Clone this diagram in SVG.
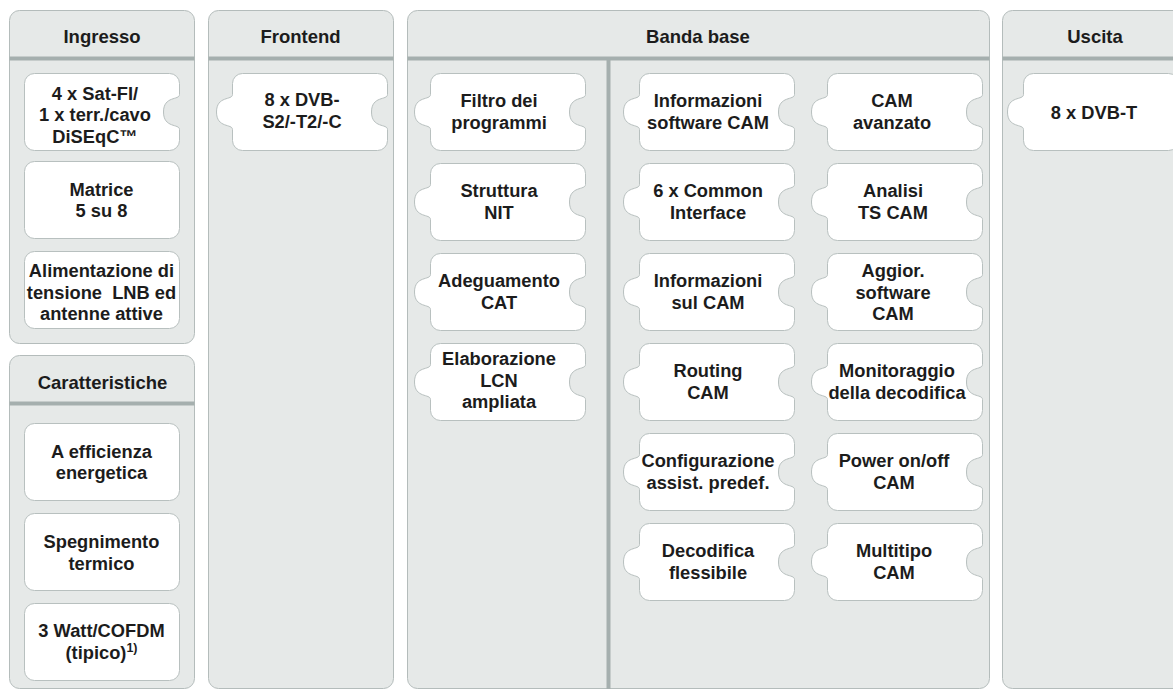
<svg xmlns="http://www.w3.org/2000/svg" xmlns:xlink="http://www.w3.org/1999/xlink" width="1173" height="690" viewBox="0 0 1173 690">
  <style>
    .panel { fill: #e6e9e8; stroke: #b4bcbb; stroke-width: 1; }
    .rule { stroke: #a5afae; stroke-width: 4; fill: none; }
    .node { fill: #ffffff; stroke: #b8c0bf; stroke-width: 1; }
    .hd { font-family: "Liberation Sans", Arial, sans-serif; font-weight: bold; font-size: 18.5px; fill: #1c1c1c; text-anchor: middle; }
    .tx { font-family: "Liberation Sans", Arial, sans-serif; font-weight: bold; font-size: 18.3px; fill: #1c1c1c; text-anchor: middle; white-space: pre; }
  </style>
  <defs>
    <!-- puzzle pieces, body 155 x 77 at the origin -->
    <path id="pc-both" d="M10,0 H145 A10,10 0 0 1 155,10 V21 C155,27 139,22 139,38.5 C139,55 155,50 155,56 V67 A10,10 0 0 1 145,77 H10 A10,10 0 0 1 0,67 V56 C0,50 -16,55 -16,38.5 C-16,22 0,27 0,21 V10 A10,10 0 0 1 10,0 Z"/>
    <path id="pc-notch" d="M10,0 H145 A10,10 0 0 1 155,10 V21 C155,27 139,22 139,38.5 C139,55 155,50 155,56 V67 A10,10 0 0 1 145,77 H10 A10,10 0 0 1 0,67 V10 A10,10 0 0 1 10,0 Z"/>
    <path id="pc-tab" d="M10,0 H145 A10,10 0 0 1 155,10 V67 A10,10 0 0 1 145,77 H10 A10,10 0 0 1 0,67 V56 C0,50 -16,55 -16,38.5 C-16,22 0,27 0,21 V10 A10,10 0 0 1 10,0 Z"/>
    <rect id="pc-plain" x="0" y="0" width="155" height="77" rx="10" ry="10"/>
  </defs>

  <!-- column panels -->
  <g id="panels">
    <g id="panel-ingresso">
      <rect class="panel" x="9.5" y="10.5" width="185" height="333" rx="10"/>
      <line class="rule" x1="9.5" y1="58.5" x2="194.5" y2="58.5"/>
      <text class="hd" x="102" y="43">Ingresso</text>
    </g>
    <g id="panel-caratteristiche">
      <rect class="panel" x="9.5" y="355.5" width="185" height="333" rx="10"/>
      <line class="rule" x1="9.5" y1="403.5" x2="194.5" y2="403.5"/>
      <text class="hd" x="102.5" y="389">Caratteristiche</text>
    </g>
    <g id="panel-frontend">
      <rect class="panel" x="208.5" y="10.5" width="185" height="678" rx="10"/>
      <line class="rule" x1="208.5" y1="58.5" x2="393.5" y2="58.5"/>
      <text class="hd" x="300.5" y="43">Frontend</text>
    </g>
    <g id="panel-banda">
      <rect class="panel" x="407.5" y="10.5" width="582" height="678" rx="10"/>
      <line class="rule" x1="407.5" y1="58.5" x2="989.5" y2="58.5"/>
      <line class="rule" x1="608.5" y1="58.5" x2="608.5" y2="689"/>
      <text class="hd" x="698" y="43">Banda base</text>
    </g>
    <g id="panel-uscita">
      <rect class="panel" x="1002.5" y="10.5" width="190" height="678" rx="10"/>
      <line class="rule" x1="1002.5" y1="58.5" x2="1192" y2="58.5"/>
      <text class="hd" x="1095" y="43">Uscita</text>
    </g>
  </g>

  <!-- Ingresso -->
  <g id="in-satfi">
    <use href="#pc-notch" class="node" x="24.5" y="73.5"/>
    <text class="tx" x="95" y="99.5">4 x Sat-FI/</text>
    <text class="tx" x="95" y="121">1 x terr./cavo</text>
    <text class="tx" x="95" y="142.5">DiSEqC™</text>
  </g>
  <g id="in-matrice">
    <use href="#pc-plain" class="node" x="24.5" y="161.5"/>
    <text class="tx" x="101.5" y="195.5">Matrice</text>
    <text class="tx" x="101.5" y="217">5 su 8</text>
  </g>
  <g id="in-alim">
    <use href="#pc-plain" class="node" x="24.5" y="251.5"/>
    <text class="tx" x="101.5" y="277">Alimentazione di</text>
    <text class="tx" x="101.5" y="298.5">tensione  LNB ed</text>
    <text class="tx" x="101.5" y="320">antenne attive</text>
  </g>

  <!-- Caratteristiche -->
  <g id="car-efficienza">
    <use href="#pc-plain" class="node" x="24.5" y="423.5"/>
    <text class="tx" x="101.5" y="458">A efficienza</text>
    <text class="tx" x="101.5" y="478.5">energetica</text>
  </g>
  <g id="car-spegnimento">
    <use href="#pc-plain" class="node" x="24.5" y="513.5"/>
    <text class="tx" x="101.5" y="548">Spegnimento</text>
    <text class="tx" x="101.5" y="569.5">termico</text>
  </g>
  <g id="car-watt">
    <use href="#pc-plain" class="node" x="24.5" y="603.5"/>
    <text class="tx" x="101.5" y="637">3 Watt/COFDM</text>
    <text class="tx" x="101.5" y="658.5">(tipico)<tspan dy="-7" font-size="12.5">1)</tspan></text>
  </g>

  <!-- Frontend -->
  <g id="fe-dvb">
    <use href="#pc-both" class="node" x="232.5" y="73.5"/>
    <text class="tx" x="302" y="106">8 x DVB-</text>
    <text class="tx" x="302" y="127.5">S2/-T2/-C</text>
  </g>

  <!-- Banda base, first column -->
  <g id="bb-filtro">
    <use href="#pc-both" class="node" x="430.5" y="73.5"/>
    <text class="tx" x="499" y="107">Filtro dei</text>
    <text class="tx" x="499" y="128.5">programmi</text>
  </g>
  <g id="bb-nit">
    <use href="#pc-both" class="node" x="430.5" y="163.5"/>
    <text class="tx" x="499" y="197">Struttura</text>
    <text class="tx" x="499" y="218.5">NIT</text>
  </g>
  <g id="bb-cat">
    <use href="#pc-both" class="node" x="430.5" y="253.5"/>
    <text class="tx" x="499" y="287">Adeguamento</text>
    <text class="tx" x="499" y="308.5">CAT</text>
  </g>
  <g id="bb-lcn">
    <use href="#pc-both" class="node" x="430.5" y="343.5"/>
    <text class="tx" x="499" y="365">Elaborazione</text>
    <text class="tx" x="499" y="386.5">LCN</text>
    <text class="tx" x="499" y="408">ampliata</text>
  </g>

  <!-- Banda base, second column -->
  <g id="bb-infosw">
    <use href="#pc-both" class="node" x="639.5" y="73.5"/>
    <text class="tx" x="708" y="107">Informazioni</text>
    <text class="tx" x="708" y="128.5">software CAM</text>
  </g>
  <g id="bb-ci">
    <use href="#pc-both" class="node" x="639.5" y="163.5"/>
    <text class="tx" x="708" y="197">6 x Common</text>
    <text class="tx" x="708" y="218.5">Interface</text>
  </g>
  <g id="bb-infocam">
    <use href="#pc-both" class="node" x="639.5" y="253.5"/>
    <text class="tx" x="708" y="287">Informazioni</text>
    <text class="tx" x="708" y="308.5">sul CAM</text>
  </g>
  <g id="bb-routing">
    <use href="#pc-both" class="node" x="639.5" y="343.5"/>
    <text class="tx" x="708" y="377">Routing</text>
    <text class="tx" x="708" y="398.5">CAM</text>
  </g>
  <g id="bb-config">
    <use href="#pc-both" class="node" x="639.5" y="433.5"/>
    <text class="tx" x="708" y="467">Configurazione</text>
    <text class="tx" x="708" y="488.5">assist. predef.</text>
  </g>
  <g id="bb-decodifica">
    <use href="#pc-both" class="node" x="639.5" y="523.5"/>
    <text class="tx" x="708" y="557">Decodifica</text>
    <text class="tx" x="708" y="578.5">flessibile</text>
  </g>

  <!-- Banda base, third column -->
  <g id="bb-camavanzato">
    <use href="#pc-both" class="node" x="827.5" y="73.5"/>
    <text class="tx" x="892" y="107">CAM</text>
    <text class="tx" x="892" y="128.5">avanzato</text>
  </g>
  <g id="bb-analisi">
    <use href="#pc-both" class="node" x="827.5" y="163.5"/>
    <text class="tx" x="893" y="197">Analisi</text>
    <text class="tx" x="893" y="218.5">TS CAM</text>
  </g>
  <g id="bb-aggior">
    <use href="#pc-both" class="node" x="827.5" y="253.5"/>
    <text class="tx" x="893" y="277">Aggior.</text>
    <text class="tx" x="893" y="298.5">software</text>
    <text class="tx" x="893" y="320">CAM</text>
  </g>
  <g id="bb-monitor">
    <use href="#pc-both" class="node" x="827.5" y="343.5"/>
    <text class="tx" x="897" y="377">Monitoraggio</text>
    <text class="tx" x="897" y="398.5">della decodifica</text>
  </g>
  <g id="bb-power">
    <use href="#pc-both" class="node" x="827.5" y="433.5"/>
    <text class="tx" x="894" y="467">Power on/off</text>
    <text class="tx" x="894" y="488.5">CAM</text>
  </g>
  <g id="bb-multitipo">
    <use href="#pc-both" class="node" x="827.5" y="523.5"/>
    <text class="tx" x="894" y="557">Multitipo</text>
    <text class="tx" x="894" y="578.5">CAM</text>
  </g>

  <!-- Uscita -->
  <g id="out-dvbt">
    <use href="#pc-tab" class="node" x="1023.5" y="73.5"/>
    <text class="tx" x="1094" y="119">8 x DVB-T</text>
  </g>
</svg>
